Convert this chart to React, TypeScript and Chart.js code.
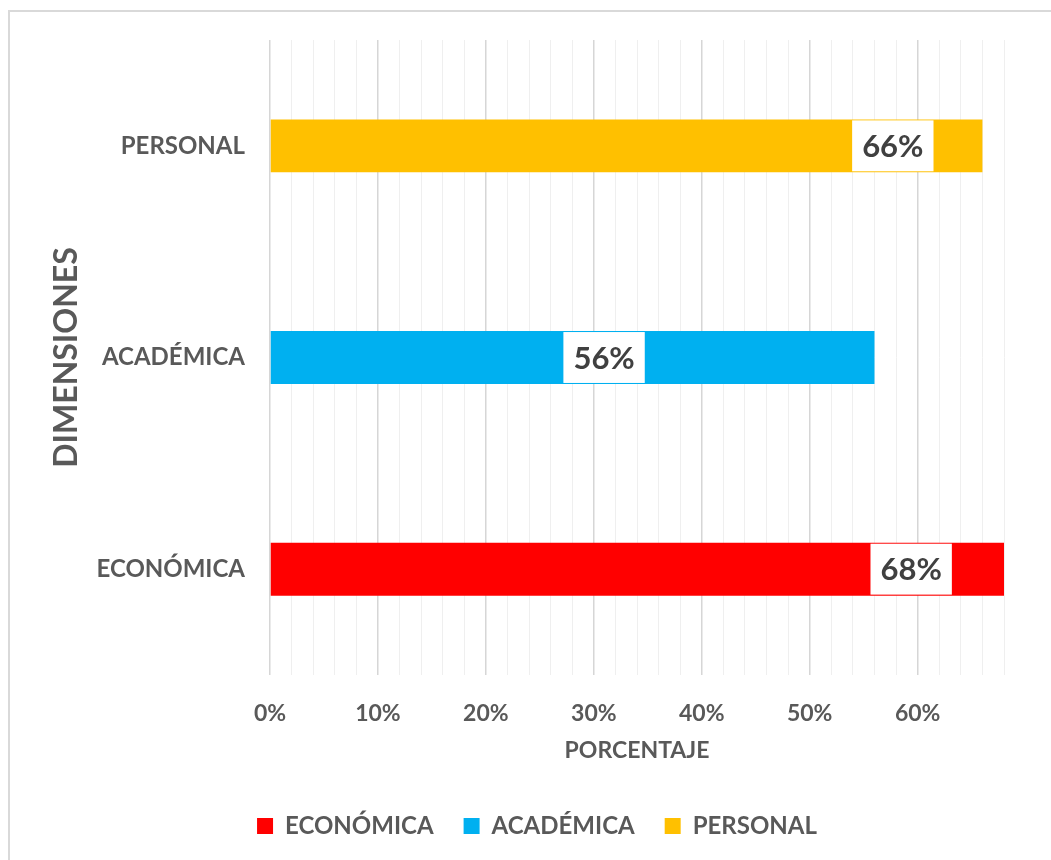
import React, { useEffect, useRef } from "react";
import { Chart, registerables } from "chart.js";

Chart.register(...registerables);

const categories = ["PERSONAL", "ACADÉMICA", "ECONÓMICA"];
const seriesNames = ["ECONÓMICA", "ACADÉMICA", "PERSONAL"];
const seriesValues = [68, 56, 66];
const seriesColors = ["#FF0000", "#00B0F0", "#FFC000"];
// where each value label box is centred along the axis (percent)
const labelAt = [59.4, 30.95, 57.7];
const xMax = 68;
const xStep = 2;

const FONT = "Lato, 'Open Sans', sans-serif";
const GRAY = "#595959";

export default function App() {
  const ref = useRef<HTMLCanvasElement | null>(null);
  useEffect(() => {
    if (!ref.current) return;
    const datasets = seriesNames.map((name, i) => ({
      label: name,
      data: categories.map((c) => (c === name ? seriesValues[i] : null)),
      backgroundColor: seriesColors[i],
      borderWidth: 0,
      barPercentage: 1,
      categoryPercentage: 0.25,
    }));

    const labelPlugin = {
      id: "valueLabels",
      afterDatasetsDraw(chart: any) {
        const ctx = chart.ctx;
        const xs = chart.scales.x;
        ctx.save();
        ctx.font = `bold 31px ${FONT}`;
        ctx.textAlign = "center";
        ctx.textBaseline = "middle";
        chart.data.datasets.forEach((ds: any, di: number) => {
          const meta = chart.getDatasetMeta(di);
          ds.data.forEach((v: any, idx: number) => {
            if (v == null) return;
            const el: any = meta.data[idx];
            const cx = xs.getPixelForValue(labelAt[di]);
            const cy = el.y;
            const text = `${v}%`;
            const w = ctx.measureText(text).width + 20;
            const h = el.height - 2;
            ctx.fillStyle = "#ffffff";
            ctx.fillRect(cx - w / 2, cy - h / 2, w, h);
            ctx.fillStyle = "#404040";
            ctx.fillText(text, cx, cy + 1);
          });
        });
        ctx.restore();
      },
    };

    const legendShift = {
      id: "legendShift",
      afterLayout(chart: any) {
        const lg = chart.legend;
        if (lg) {
          lg.left = 60;
        }
      },
    };

    const chart = new Chart(ref.current, {
      type: "bar",
      data: { labels: categories, datasets },
      options: {
        indexAxis: "y",
        animation: false,
        responsive: false,
        maintainAspectRatio: false,
        layout: { padding: { top: 28, right: 47, bottom: 12, left: 0 } },
        plugins: {
          tooltip: { enabled: false },
          legend: {
            position: "bottom",
            labels: {
              boxWidth: 16,
              boxHeight: 16,
              padding: 30,
              color: GRAY,
              font: { family: FONT, size: 24, weight: "bold" },
            },
          },
        },
        scales: {
          x: {
            stacked: true,
            min: 0,
            max: xMax,
            border: { display: false },
            grid: {
              drawTicks: false,
              color: (c: any) =>
                c.tick && c.tick.value % 10 === 0 ? "#d6d6d6" : "#efefef",
              lineWidth: (c: any) => (c.tick && c.tick.value % 10 === 0 ? 1.5 : 1),
            },
            ticks: {
              stepSize: xStep,
              autoSkip: false,
              maxRotation: 0,
              padding: 25,
              color: GRAY,
              font: { family: FONT, size: 23, weight: "bold" },
              callback: (v: any) => (Number(v) % 10 === 0 ? `${v}%` : ""),
            },
            title: {
              display: true,
              text: "PORCENTAJE",
              color: GRAY,
              padding: { top: 0, bottom: 20 },
              font: { family: FONT, size: 23, weight: "bold" },
            },
            afterFit: (s: any) => {
              s.height = 109;
            },
          },
          y: {
            stacked: true,
            border: { display: false },
            grid: { display: false, drawTicks: false },
            ticks: {
              padding: 25,
              color: GRAY,
              font: { family: FONT, size: 24, weight: "bold", lineHeight: 0.2 },
            },
            title: {
              display: true,
              text: "DIMENSIONES",
              color: GRAY,
              padding: { top: 37, bottom: 0 },
              font: { family: FONT, size: 32, weight: "bold" },
            },
            afterFit: (s: any) => {
              s.width = 260;
            },
          },
        },
      },
      plugins: [labelPlugin, legendShift],
    } as any);
    return () => chart.destroy();
  }, []);

  return (
    <div
      style={{
        position: "absolute",
        left: 8,
        top: 10,
        width: 1043,
        height: 850,
        borderLeft: "2px solid #d9d9d9",
        borderTop: "2px solid #d9d9d9",
        background: "#fff",
      }}
    >
      <canvas ref={ref} width={1041} height={848} style={{ display: "block" }} />
    </div>
  );
}
